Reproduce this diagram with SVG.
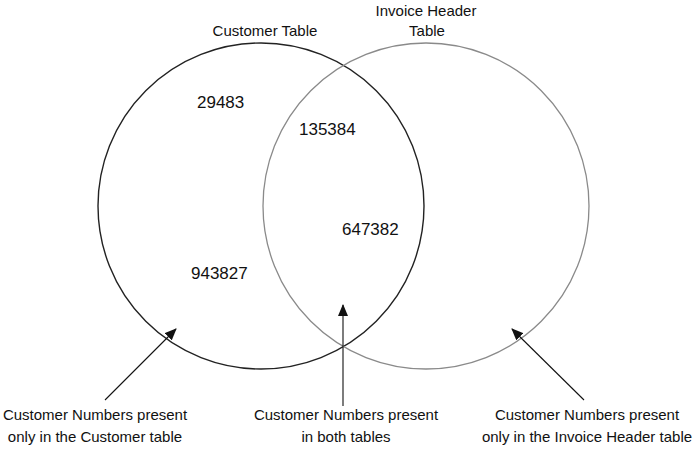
<svg xmlns="http://www.w3.org/2000/svg" width="699" height="449" viewBox="0 0 699 449">
<style>
text{font-family:"Liberation Sans",Arial,sans-serif;fill:#111;}
.lbl{font-size:15px;text-anchor:middle;}
.num{font-size:17px;}
.set{fill:none;}
.arrow{stroke:#111;stroke-width:1.1;fill:none;marker-end:url(#ah);}
</style>
<defs>
<marker id="ah" markerWidth="12" markerHeight="10" refX="11" refY="5" orient="auto" markerUnits="userSpaceOnUse">
<path d="M0,0 L12,5 L0,10 Z" fill="#111"/>
</marker>
</defs>
<rect width="699" height="449" fill="#fff"/>
<g id="customer-table">
<circle class="set" cx="261" cy="206" r="163" stroke="#222" stroke-width="1.4"/>
<text class="lbl" x="265" y="36">Customer Table</text>
</g>
<g id="invoice-header-table">
<circle class="set" cx="426" cy="206" r="163" stroke="#8a8a8a" stroke-width="1.3"/>
<text class="lbl" x="426" y="16">Invoice Header</text>
<text class="lbl" x="427" y="36">Table</text>
</g>
<g id="numbers">
<text class="num" x="197" y="108">29483</text>
<text class="num" x="299" y="135">135384</text>
<text class="num" x="342" y="235">647382</text>
<text class="num" x="191" y="279">943827</text>
</g>
<g id="connectors">
<line class="arrow" x1="105" y1="400" x2="176" y2="329"/>
<line class="arrow" x1="343" y1="406" x2="343" y2="305"/>
<line class="arrow" x1="584" y1="400" x2="512" y2="329"/>
</g>
<g id="label-left">
<text class="lbl" x="95" y="420">Customer Numbers present</text>
<text class="lbl" x="95" y="442">only in the Customer table</text>
</g>
<g id="label-middle">
<text class="lbl" x="346" y="420">Customer Numbers present</text>
<text class="lbl" x="346" y="442">in both tables</text>
</g>
<g id="label-right">
<text class="lbl" x="587" y="420">Customer Numbers present</text>
<text class="lbl" x="587" y="442">only in the Invoice Header table</text>
</g>
</svg>
